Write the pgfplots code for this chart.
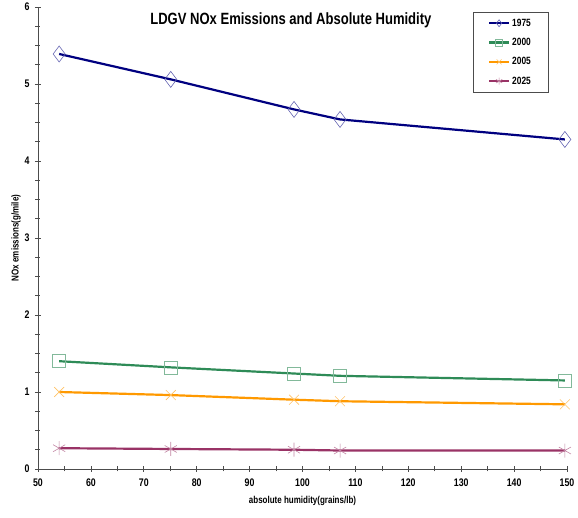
\documentclass[border=0pt]{standalone}
\usepackage{pgfplots}
\pgfplotsset{compat=1.18}
\usepackage{fontspec}
\setmainfont{Liberation Sans}[FakeStretch=0.8]
\definecolor{c75}{RGB}{0,0,128}
\definecolor{c00}{RGB}{46,139,87}
\definecolor{c05}{RGB}{255,153,0}
\definecolor{c25}{RGB}{153,51,102}
\begin{document}
\begin{tikzpicture}[x=1pt,y=1pt]
\path[use as bounding box] (-38,-49) rectangle (540,469);
\begin{axis}[
  at={(0,0)}, anchor=origin,
  width=529pt, height=462pt, scale only axis,
  xmin=50, xmax=150, ymin=0, ymax=6,
  axis lines=left, axis line style={-, black!70, line width=0.8pt},
  xtick={50,60,...,150}, ytick={0,1,...,6},
  minor x tick num=1, minor y tick num=3,
  tick align=center, major tick length=6pt, minor tick length=5pt,
  tick style={black!70, line width=0.7pt},
  /pgf/number format/assume math mode=true,
  ticklabel style={font=\bfseries\fontsize{11}{12}\selectfont},
  xticklabel style={yshift=-3pt},
  yticklabel style={xshift=-2pt},
  xlabel={absolute humidity(grains/lb)},
  ylabel={NOx emissions(g/mile)},
  xlabel style={font=\bfseries\fontsize{10}{11}\selectfont, yshift=-3pt},
  ylabel style={font=\bfseries\fontsize{10}{11}\selectfont, yshift=-3pt},
  title={LDGV NOx Emissions and Absolute Humidity},
  title style={font=\bfseries\fontsize{16.3}{18}\selectfont, at={(axis description cs:0.478,0.982)}, anchor=north},
  legend style={at={(rel axis cs:0.822,0.99)}, anchor=north west, draw=black!70,
    font=\bfseries\fontsize{10.5}{11}\selectfont, row sep=6.5pt, inner xsep=15pt, inner ysep=5pt,
    /tikz/every even column/.append style={column sep=0pt}},
  legend image code/.code={
    \draw[#1, mark repeat=2, mark phase=2, mark size=3.5pt] plot coordinates {(0cm,0cm) (0.35cm,0cm) (0.7cm,0cm)};},
  legend cell align=left,
  clip=false,
]
\addplot[c75, line width=2.2pt, mark=diamond, mark size=8pt, mark options={draw=c75!60, line width=0.6pt, fill=none}]
coordinates {(54,5.39) (75.1,5.06) (98.4,4.67) (107.1,4.54) (149.6,4.28)};
\addlegendentry{1975}
\addplot[c00, line width=2.2pt, mark=square, mark size=6.5pt, mark options={draw=c00!60, line width=0.6pt, fill=none}]
coordinates {(54,1.40) (75.1,1.32) (98.4,1.24) (107.1,1.21) (149.6,1.15)};
\addlegendentry{2000}
\addplot[c05, line width=2.2pt, mark=x, mark size=7pt, mark options={draw=c05!60, line width=0.6pt}]
coordinates {(54,1.00) (75.1,0.96) (98.4,0.90) (107.1,0.88) (149.6,0.84)};
\addlegendentry{2005}
\addplot[c25, line width=2.2pt, mark=asterisk, mark size=7pt, mark options={draw=c25!60, line width=0.6pt}]
coordinates {(54,0.27) (75.1,0.26) (98.4,0.25) (107.1,0.24) (149.6,0.24)};
\addlegendentry{2025}
\end{axis}
\end{tikzpicture}
\end{document}
